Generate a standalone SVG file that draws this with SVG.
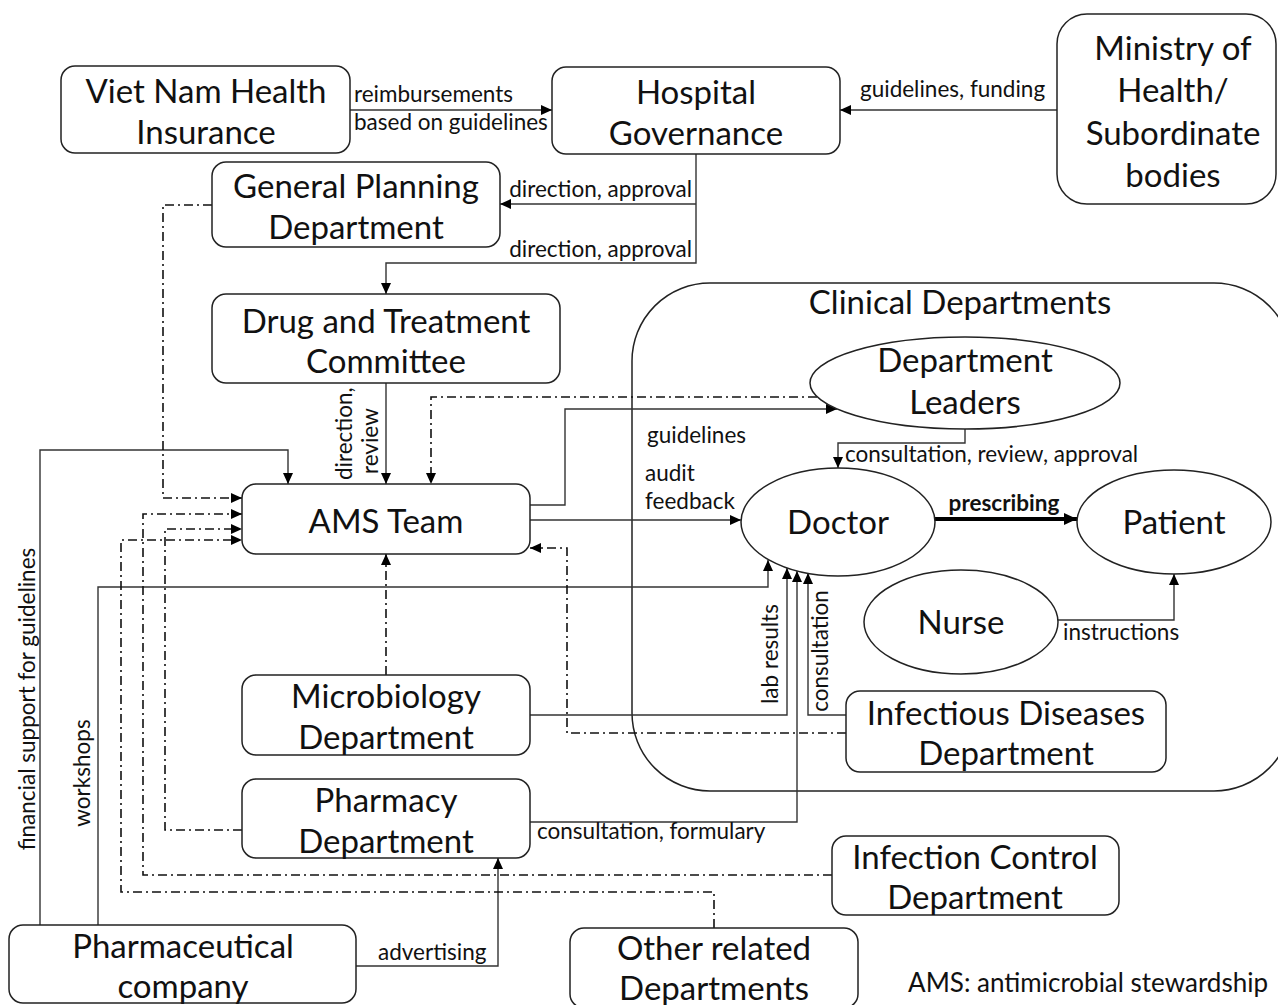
<svg xmlns="http://www.w3.org/2000/svg" width="1278" height="1005" viewBox="0 0 1278 1005">
<defs>
<marker id="ah" markerUnits="userSpaceOnUse" markerWidth="12" markerHeight="10" refX="11" refY="5" orient="auto">
<path d="M0,0 L11,5 L0,10 z" fill="#000"/>
</marker>
<marker id="ahb" markerUnits="userSpaceOnUse" markerWidth="14" markerHeight="12" refX="13" refY="6" orient="auto">
<path d="M0,0 L13,6 L0,12 z" fill="#000"/>
</marker>
</defs>
<style>
.box{fill:#fff;stroke:#222;stroke-width:1.5}
.cont{fill:none;stroke:#222;stroke-width:1.5}
.nt{font-family:Lato,"Open Sans",sans-serif;font-size:33px;fill:#111;text-anchor:middle}
.lb{font-family:Lato,"Open Sans",sans-serif;font-size:22.5px;fill:#111}
.c{fill:none;stroke:#333;stroke-width:1.4;marker-end:url(#ah)}
.da{fill:none;stroke:#111;stroke-width:1.6;stroke-dasharray:9 4 2 4;marker-end:url(#ah)}
</style>
<rect width="1278" height="1005" fill="#fff"/>

<g id="clinical-departments">
<rect class="cont" x="632" y="283" width="660" height="508" rx="78"/>
<text class="nt" x="960" y="314">Clinical Departments</text>
</g>

<g id="connectors">
<path class="c" d="M350,110 H552"/>
<path class="c" d="M1057,110 H840"/>
<path class="c" d="M696,204 H500"/>
<path class="c" d="M696,154 V263 H386 V294"/>
<path class="c" d="M386,383 V484"/>
<path class="c" d="M40,925 V450 H288 V484"/>
<path class="c" d="M98,925 V587 H768 V560"/>
<path class="c" d="M530,505 H565 V409 H837"/>
<path class="c" d="M530,520 H741"/>
<path class="c" d="M965,429 V443 H838 V468"/>
<path fill="none" stroke="#000" stroke-width="4" marker-end="url(#ahb)" d="M935,519 H1077"/>
<path class="c" d="M1058,620 H1174 V574"/>
<path class="c" d="M530,715 H787 V568"/>
<path class="c" d="M846,715 H808 V573"/>
<path class="c" d="M530,822 H797 V571"/>
<path class="c" d="M356,966 H498 V858"/>
<path class="da" d="M817,397 H431 V484"/>
<path class="da" d="M386,675 V554"/>
<path class="da" d="M846,733 H567 V548 H530"/>
<path class="da" d="M212,205 H163 V498 H242"/>
<path class="da" d="M832,875 H143 V514 H242"/>
<path class="da" d="M242,830 H165 V529 H242"/>
<path class="da" d="M714,928 V892 H121 V540 H242"/>

<text class="lb" x="354" y="102">reimbursements</text>
<text class="lb" x="354" y="130">based on guidelines</text>
<text class="lb" x="860" y="97">guidelines, funding</text>
<text class="lb" x="692" y="197" text-anchor="end">direction, approval</text>
<text class="lb" x="692" y="257" text-anchor="end">direction, approval</text>
<text class="lb" transform="translate(352,480) rotate(-90)">direction,</text>
<text class="lb" transform="translate(378,474) rotate(-90)">review</text>
<text class="lb" x="647" y="443">guidelines</text>
<text class="lb" x="645" y="481">audit</text>
<text class="lb" x="645" y="509">feedback</text>
<text class="lb" x="845" y="462">consultation, review, approval</text>
<text class="lb" x="1004" y="511" text-anchor="middle" font-weight="bold">prescribing</text>
<text class="lb" x="1063" y="640">instructions</text>
<text class="lb" transform="translate(778,654) rotate(-90)" text-anchor="middle">lab results</text>
<text class="lb" transform="translate(828,651) rotate(-90)" text-anchor="middle">consultation</text>
<text class="lb" x="537" y="839">consultation, formulary</text>
<text class="lb" x="378" y="960">advertising</text>
<text class="lb" transform="translate(35,699) rotate(-90)" text-anchor="middle">financial support for guidelines</text>
<text class="lb" transform="translate(90,773) rotate(-90)" text-anchor="middle">workshops</text>
</g>

<g id="vnhi">
<rect class="box" x="61" y="66" width="289" height="87" rx="14"/>
<text class="nt" x="206" y="103">Viet Nam Health</text>
<text class="nt" x="206" y="144">Insurance</text>
</g>
<g id="hospital-governance">
<rect class="box" x="552" y="67" width="288" height="87" rx="14"/>
<text class="nt" x="696" y="104">Hospital</text>
<text class="nt" x="696" y="145">Governance</text>
</g>
<g id="ministry">
<rect class="box" x="1057" y="14" width="219" height="190" rx="30"/>
<text class="nt" x="1173" y="60">Ministry of</text>
<text class="nt" x="1173" y="102">Health/</text>
<text class="nt" x="1173" y="145">Subordinate</text>
<text class="nt" x="1173" y="187">bodies</text>
</g>
<g id="general-planning">
<rect class="box" x="212" y="162" width="288" height="85" rx="14"/>
<text class="nt" x="356" y="198">General Planning</text>
<text class="nt" x="356" y="239">Department</text>
</g>
<g id="dtc">
<rect class="box" x="212" y="294" width="348" height="89" rx="14"/>
<text class="nt" x="386" y="333">Drug and Treatment</text>
<text class="nt" x="386" y="373">Committee</text>
</g>
<g id="ams-team">
<rect class="box" x="242" y="484" width="288" height="70" rx="14"/>
<text class="nt" x="386" y="533">AMS Team</text>
</g>
<g id="microbiology">
<rect class="box" x="242" y="675" width="288" height="80" rx="14"/>
<text class="nt" x="386" y="708">Microbiology</text>
<text class="nt" x="386" y="749">Department</text>
</g>
<g id="pharmacy">
<rect class="box" x="242" y="779" width="288" height="79" rx="14"/>
<text class="nt" x="386" y="812">Pharmacy</text>
<text class="nt" x="386" y="853">Department</text>
</g>
<g id="pharmaceutical-company">
<rect class="box" x="9" y="925" width="347" height="78" rx="14"/>
<text class="nt" x="183" y="958">Pharmaceutical</text>
<text class="nt" x="183" y="998">company</text>
</g>
<g id="other-related">
<rect class="box" x="570" y="928" width="288" height="80" rx="14"/>
<text class="nt" x="714" y="960">Other related</text>
<text class="nt" x="714" y="1000">Departments</text>
</g>
<g id="infection-control">
<rect class="box" x="832" y="836" width="287" height="79" rx="14"/>
<text class="nt" x="975" y="869">Infection Control</text>
<text class="nt" x="975" y="909">Department</text>
</g>
<g id="infectious-diseases">
<rect class="box" x="846" y="691" width="320" height="81" rx="14"/>
<text class="nt" x="1006" y="725">Infectious Diseases</text>
<text class="nt" x="1006" y="765">Department</text>
</g>
<g id="department-leaders">
<ellipse class="box" cx="965" cy="383" rx="155" ry="46"/>
<text class="nt" x="965" y="372">Department</text>
<text class="nt" x="965" y="414">Leaders</text>
</g>
<g id="doctor">
<ellipse class="box" cx="838" cy="522" rx="97" ry="54"/>
<text class="nt" x="838" y="534">Doctor</text>
</g>
<g id="patient">
<ellipse class="box" cx="1174" cy="522" rx="97" ry="52"/>
<text class="nt" x="1174" y="534">Patient</text>
</g>
<g id="nurse">
<ellipse class="box" cx="961" cy="622" rx="97" ry="52"/>
<text class="nt" x="961" y="634">Nurse</text>
</g>
<text x="1268" y="992" text-anchor="end" style="font-family:Lato,'Open Sans',sans-serif;font-size:26px;fill:#111">AMS: antimicrobial stewardship</text>
</svg>
